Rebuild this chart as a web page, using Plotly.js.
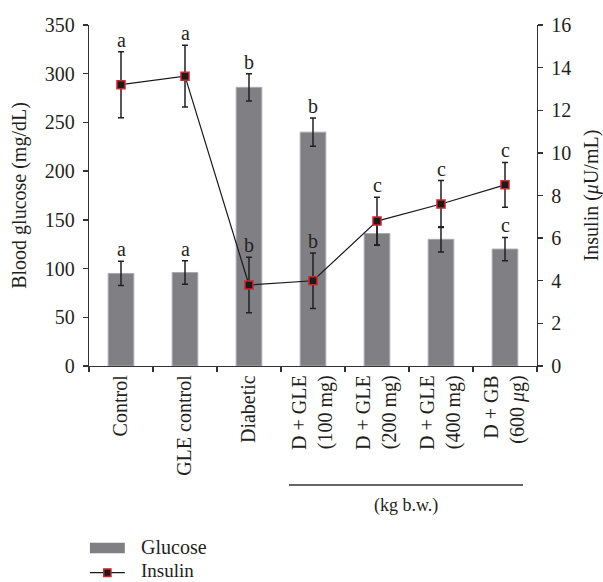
<!DOCTYPE html>
<html>
<head>
<meta charset="utf-8">
<script src="https://cdn.plot.ly/plotly-3.0.1.min.js"></script>
<style>html,body{margin:0;padding:0;background:#fff;}#chart{width:603px;height:582px;}</style>
</head>
<body>
<div id="chart"></div>
<script>
var categories = ['Control', 'GLE control', 'Diabetic', 'D + GLE<br>(100 mg)', 'D + GLE<br>(200 mg)', 'D + GLE<br>(400 mg)', 'D + GB<br>(600 <i>\u03bc</i>g)'];
var glucose = [95, 96, 286, 240, 136, 130, 120];
var glucoseErr = [12.5, 12, 14, 14.5, 12, 13, 12];
var glucoseLetters = ['a', 'a', 'b', 'b', '', '', 'c'];
var insulin = [13.2, 13.6, 3.8, 4.0, 6.8, 7.6, 8.5];
var insulinErr = [1.55, 1.45, 1.3, 1.3, 1.12, 1.1, 1.05];
var insulinLetters = ['a', 'a', 'b', 'b', 'c', 'c', 'c'];
var glucoseTicks = [0, 50, 100, 150, 200, 250, 300, 350];
var insulinTicks = [0, 2, 4, 6, 8, 10, 12, 14, 16];

var FONT = 'Liberation Serif, Times New Roman, serif';
var TXT = '#231f20';

var traces = [
  {
    type: 'bar', name: 'Glucose', x: categories, y: glucose, width: 0.4,
    marker: {color: '#808084', line: {color: '#a9a9ad', width: 1}},
    error_y: {type: 'data', array: glucoseErr, visible: true, color: '#231f20', thickness: 1.5, width: 3},
    showlegend: false, hoverinfo: 'y'
  },
  {
    type: 'scatter', mode: 'lines+markers', name: 'Insulin', x: categories, y: insulin, yaxis: 'y2',
    line: {color: '#1a1a1a', width: 1.2},
    marker: {symbol: 'square', size: 8, color: '#1a1a1a', line: {color: '#d2232a', width: 1.5}},
    error_y: {type: 'data', array: insulinErr, visible: true, color: '#231f20', thickness: 1.5, width: 3},
    showlegend: false, hoverinfo: 'y'
  }
];

var annotations = [];
categories.forEach(function (c, i) {
  if (glucoseLetters[i]) {
    annotations.push({x: c, y: glucose[i] + glucoseErr[i], xref: 'x', yref: 'y', text: glucoseLetters[i],
      showarrow: false, yanchor: 'bottom', yshift: -1, font: {family: FONT, size: 20, color: TXT}});
  }
  if (insulinLetters[i]) {
    annotations.push({x: c, y: insulin[i] + insulinErr[i], xref: 'x', yref: 'y2', text: insulinLetters[i],
      showarrow: false, yanchor: 'bottom', yshift: -1, font: {family: FONT, size: 20, color: TXT}});
  }
});
annotations.push({x: 0.7076, y: -0.408, xref: 'paper', yref: 'paper', text: '(kg b.w.)', showarrow: false,
  xanchor: 'center', yanchor: 'middle', font: {family: FONT, size: 18, color: TXT}});
annotations.push({x: 0.112, y: -0.531, xref: 'paper', yref: 'paper', text: 'Glucose', showarrow: false,
  xanchor: 'left', yanchor: 'middle', font: {family: FONT, size: 20, color: TXT}});
annotations.push({x: 0.112, y: -0.600, xref: 'paper', yref: 'paper', text: 'Insulin', showarrow: false,
  xanchor: 'left', yanchor: 'middle', font: {family: FONT, size: 19, color: TXT}});

var shapes = [
  {type: 'line', xref: 'paper', yref: 'paper', x0: 0.4464, x1: 0.9688, y0: -0.349, y1: -0.349, line: {color: '#333', width: 1.3}},
  {type: 'rect', xref: 'paper', yref: 'paper', x0: 0.002, x1: 0.080, y0: -0.549, y1: -0.518, fillcolor: '#808084', line: {width: 0}},
  {type: 'line', xref: 'paper', yref: 'paper', x0: 0.002, x1: 0.080, y0: -0.606, y1: -0.606, line: {color: '#1a1a1a', width: 1.2}},
  {type: 'rect', xref: 'paper', yref: 'paper', x0: 0.033, x1: 0.049, y0: -0.617, y1: -0.595, fillcolor: '#1a1a1a', line: {color: '#d2232a', width: 1.5}}
];

var layout = {
  width: 603, height: 582,
  margin: {l: 89, r: 66, t: 25, b: 216, pad: 0},
  paper_bgcolor: '#fff', plot_bgcolor: '#fff',
  font: {family: FONT, color: TXT, size: 18},
  showlegend: false,
  xaxis: {
    type: 'category', tickangle: -90, tickson: 'boundaries', ticks: 'outside', ticklen: 5, tickwidth: 1.3,
    tickcolor: '#333', showline: true, linecolor: '#333', linewidth: 1.3, showgrid: false, zeroline: false,
    tickfont: {family: FONT, size: 20, color: TXT}, automargin: false
  },
  yaxis: {
    range: [0, 350], tickvals: glucoseTicks, ticks: 'outside', ticklen: 5, tickwidth: 1.3, tickcolor: '#333',
    showline: true, linecolor: '#333', linewidth: 1.3, showgrid: false, zeroline: false, ticklabelstandoff: 4,
    tickfont: {family: FONT, size: 20, color: TXT}, automargin: false,
    title: {text: 'Blood glucose (mg/dL)', font: {family: FONT, size: 20, color: TXT}, standoff: 12}
  },
  yaxis2: {
    range: [0, 16], tickvals: insulinTicks, overlaying: 'y', side: 'right', ticks: 'outside', ticklen: 5,
    tickwidth: 1.3, tickcolor: '#333', showline: true, linecolor: '#333', linewidth: 1.3, showgrid: false,
    zeroline: false, tickfont: {family: FONT, size: 20, color: TXT}, automargin: false, ticklabelstandoff: 4,
    title: {text: 'Insulin (<i>\u03bc</i>U/mL)', font: {family: FONT, size: 20, color: TXT}, standoff: 18}
  },
  annotations: annotations,
  shapes: shapes
};

Plotly.newPlot('chart', traces, layout, {displayModeBar: false, staticPlot: true});
</script>
</body>
</html>
